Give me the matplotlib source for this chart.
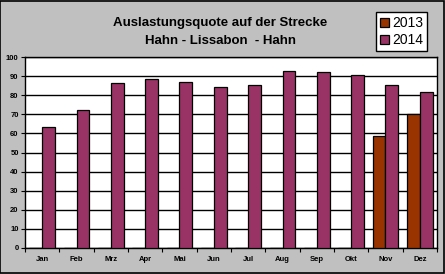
import matplotlib
matplotlib.use("Agg")
import matplotlib.pyplot as plt
import numpy as np

months = ["Jan", "Feb", "Mrz", "Apr", "Mai", "Jun", "Jul", "Aug", "Sep", "Okt", "Nov", "Dez"]
q2013 = [0, 0, 0, 0, 0, 0, 0, 0, 0, 0, 58.8, 70.4]
q2014 = [63.5, 72.1, 86.2, 88.3, 86.7, 84.1, 85.1, 92.5, 91.9, 90.4, 85.1, 81.9]
yticks = list(range(0, 101, 10))

plt.rcParams["font.family"] = ["Liberation Sans", "DejaVu Sans"]

fig = plt.figure(figsize=(4.45, 2.74), dpi=100, facecolor="#c0c0c0")
fig.patches.append(plt.Rectangle((0.001, 0.002), 0.997, 0.995, transform=fig.transFigure,
                                 fill=False, edgecolor="black", linewidth=1.2))

ax = fig.add_axes([25 / 445, 1 - 248 / 274, 412 / 445, 191 / 274])
ax.set_facecolor("white")

x = np.arange(len(months))
w = 0.37
ax.bar(x - w / 2, q2013, width=w, color="#993300", edgecolor="black", linewidth=0.9, zorder=3, label="2013")
ax.bar(x + w / 2, q2014, width=w, color="#993366", edgecolor="black", linewidth=0.9, zorder=3, label="2014")

ax.set_xlim(-0.5, len(months) - 0.5)
ax.set_ylim(0, 100)
ax.set_yticks(yticks)
ax.set_yticklabels([str(v) for v in yticks], fontsize=5.5, fontweight="bold")
ax.yaxis.grid(True, color="black", linewidth=1.0, zorder=0)

ax.set_xticks(x)
ax.set_xticklabels(months, fontsize=5.5, fontweight="bold")
ax.tick_params(axis="x", length=0, pad=6)
ax.set_xticks(np.arange(-0.5, len(months), 1), minor=True)
ax.tick_params(axis="x", which="minor", length=3, width=0.8)
ax.tick_params(axis="y", length=3, width=0.8, pad=1.5)
for s in ax.spines.values():
    s.set_linewidth(1.0)
    s.set_color("black")

fig.text(0.495, 1 - 32 / 274, "Auslastungsquote auf der Strecke\nHahn - Lissabon  - Hahn",
         ha="center", va="center", fontsize=9.5, fontweight="bold", linespacing=1.75)

leg = fig.legend(loc="upper left", bbox_to_anchor=(376 / 445, 1 - 12 / 274), fontsize=10,
                 frameon=True, fancybox=False, edgecolor="black", framealpha=1,
                 handlelength=0.6, handleheight=0.6, handletextpad=0.25,
                 borderpad=0.3, labelspacing=0.22, borderaxespad=0)
leg.get_frame().set_linewidth(1.0)

fig.savefig("out.png", dpi=100, facecolor=fig.get_facecolor())
